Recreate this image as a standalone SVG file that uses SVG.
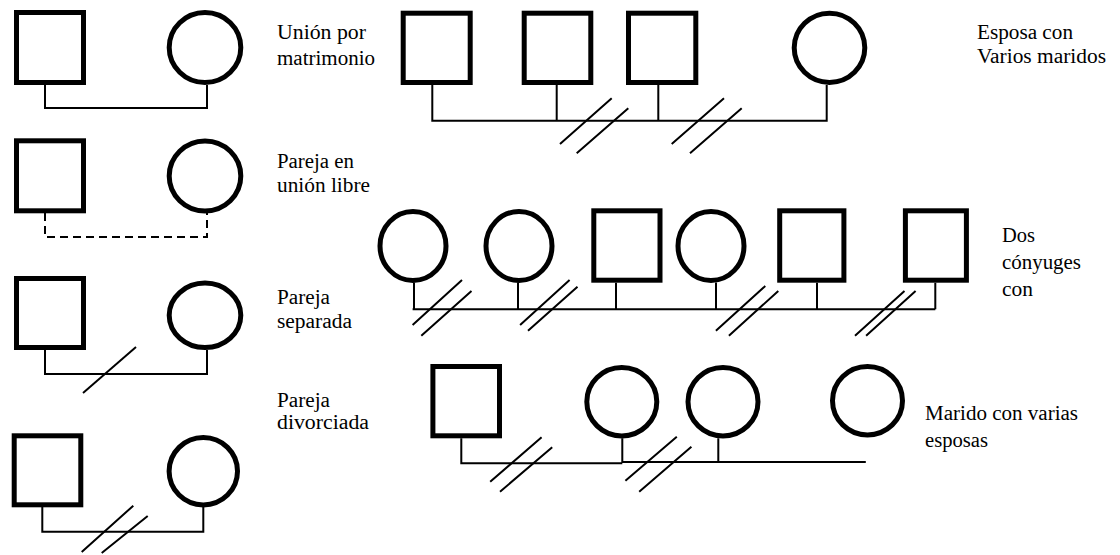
<svg xmlns="http://www.w3.org/2000/svg" width="1120" height="555" viewBox="0 0 1120 555">
<style>
.shape{fill:#fff;stroke:#000;stroke-width:5}
.ln{fill:none;stroke:#000;stroke-width:2}
.dash{fill:none;stroke:#000;stroke-width:2;stroke-dasharray:8 5}
.lbl{font-family:"Liberation Serif","Times New Roman",serif;font-size:20px;fill:#000}
</style>
<rect width="1120" height="555" fill="#fff"/>
<g id="connectors">
<path class="ln" d="M45 85V108H207V85"/>
<path class="dash" d="M45 213V237H207V213"/>
<path class="ln" d="M45 350V374H207V350"/>
<path class="ln" d="M83 393L136 347"/>
<path class="ln" d="M42.3 507V531.7H203.3V507"/>
<path class="ln" d="M81.7 552L133.3 505.7M101.7 553L147.7 516"/>
<path class="ln" d="M432.3 85V120.7H826.7V85M556.7 85V120.7M658.3 85V120.7"/>
<path class="ln" d="M560 144L611.7 98.3M576.7 153.3L628.3 108.3M671.7 144L724 98.3M690 153.3L741.7 108.3"/>
<path class="ln" d="M412.6 309.3H935.3M414 282.5V309.3M518 282.5V309.3M616 282.7V309.3M716 282.5V309.3M817 282.7V309.3M935.3 282.7V309.3"/>
<path class="ln" d="M412.6 325L462 280M421.3 335.7L471.5 291M520.1 325L569.6 280M528 330.7L577.5 286.7M715.9 330.7L765.3 286M728.9 335.7L778.3 291M855 335.7L904.5 291M866.1 335.7L915.6 291"/>
<path class="ln" d="M461.3 438.3V463.3H622.3M622.3 438.3V462H865.8M718.3 438.3V462"/>
<path class="ln" d="M490.2 481.7L541.6 437.3M500 491.7L552.2 447.3M625.4 480.7L676.8 436.7M639.2 491.7L691.4 446.7"/>
</g>
<g id="union-matrimonio">
<rect class="shape" x="16.5" y="12.5" width="67" height="70"/>
<ellipse class="shape" cx="205" cy="47.5" rx="35.8" ry="35"/>
</g>
<g id="union-libre">
<rect class="shape" x="16.5" y="140.8" width="67" height="70"/>
<ellipse class="shape" cx="205" cy="176" rx="35.8" ry="35"/>
</g>
<g id="pareja-separada">
<rect class="shape" x="16.5" y="278.5" width="67" height="69"/>
<ellipse class="shape" cx="205" cy="315.3" rx="35.8" ry="32.2"/>
</g>
<g id="pareja-divorciada">
<rect class="shape" x="14.2" y="435.8" width="66.6" height="69"/>
<ellipse class="shape" cx="203.3" cy="471.2" rx="34.2" ry="33.7"/>
</g>
<g id="esposa-varios-maridos">
<rect class="shape" x="403.2" y="13.2" width="67" height="69.3"/>
<rect class="shape" x="524.2" y="13.2" width="66.6" height="69.3"/>
<rect class="shape" x="628.5" y="13.2" width="67.3" height="69.3"/>
<ellipse class="shape" cx="829.5" cy="47.8" rx="35.3" ry="34.6"/>
</g>
<g id="dos-conyuges">
<ellipse class="shape" cx="413" cy="246" rx="33" ry="34.5"/>
<ellipse class="shape" cx="519" cy="246" rx="33" ry="34.5"/>
<rect class="shape" x="593.8" y="210.8" width="66.2" height="69.4"/>
<ellipse class="shape" cx="711" cy="246" rx="33" ry="34.5"/>
<rect class="shape" x="779.7" y="210.8" width="64.2" height="69.4"/>
<rect class="shape" x="905.4" y="210.8" width="61" height="69.4"/>
</g>
<g id="marido-varias-esposas">
<rect class="shape" x="432.9" y="366.5" width="66.6" height="69.3"/>
<ellipse class="shape" cx="621.8" cy="401.7" rx="35" ry="34.2"/>
<ellipse class="shape" cx="723" cy="401.7" rx="35" ry="34.2"/>
<ellipse class="shape" cx="867.5" cy="400.7" rx="35" ry="34.2"/>
</g>
<g id="labels">
<text class="lbl" x="277" y="39" textLength="89" lengthAdjust="spacingAndGlyphs">Unión por</text>
<text class="lbl" x="277" y="65" textLength="98" lengthAdjust="spacingAndGlyphs">matrimonio</text>
<text class="lbl" x="277" y="168" textLength="77" lengthAdjust="spacingAndGlyphs">Pareja en</text>
<text class="lbl" x="277" y="192" textLength="93" lengthAdjust="spacingAndGlyphs">unión libre</text>
<text class="lbl" x="277" y="304" textLength="53" lengthAdjust="spacingAndGlyphs">Pareja</text>
<text class="lbl" x="277" y="328" textLength="75" lengthAdjust="spacingAndGlyphs">separada</text>
<text class="lbl" x="277" y="407" textLength="53" lengthAdjust="spacingAndGlyphs">Pareja</text>
<text class="lbl" x="277" y="429" textLength="92" lengthAdjust="spacingAndGlyphs">divorciada</text>
<text class="lbl" x="977" y="39" textLength="96" lengthAdjust="spacingAndGlyphs">Esposa con</text>
<text class="lbl" x="977" y="63" textLength="129" lengthAdjust="spacingAndGlyphs">Varios maridos</text>
<text class="lbl" x="1002" y="242" textLength="33" lengthAdjust="spacingAndGlyphs">Dos</text>
<text class="lbl" x="1002" y="269" textLength="79" lengthAdjust="spacingAndGlyphs">cónyuges</text>
<text class="lbl" x="1002" y="296" textLength="31" lengthAdjust="spacingAndGlyphs">con</text>
<text class="lbl" x="925" y="420" textLength="153" lengthAdjust="spacingAndGlyphs">Marido con varias</text>
<text class="lbl" x="925" y="447" textLength="63" lengthAdjust="spacingAndGlyphs">esposas</text>
</g>
</svg>
